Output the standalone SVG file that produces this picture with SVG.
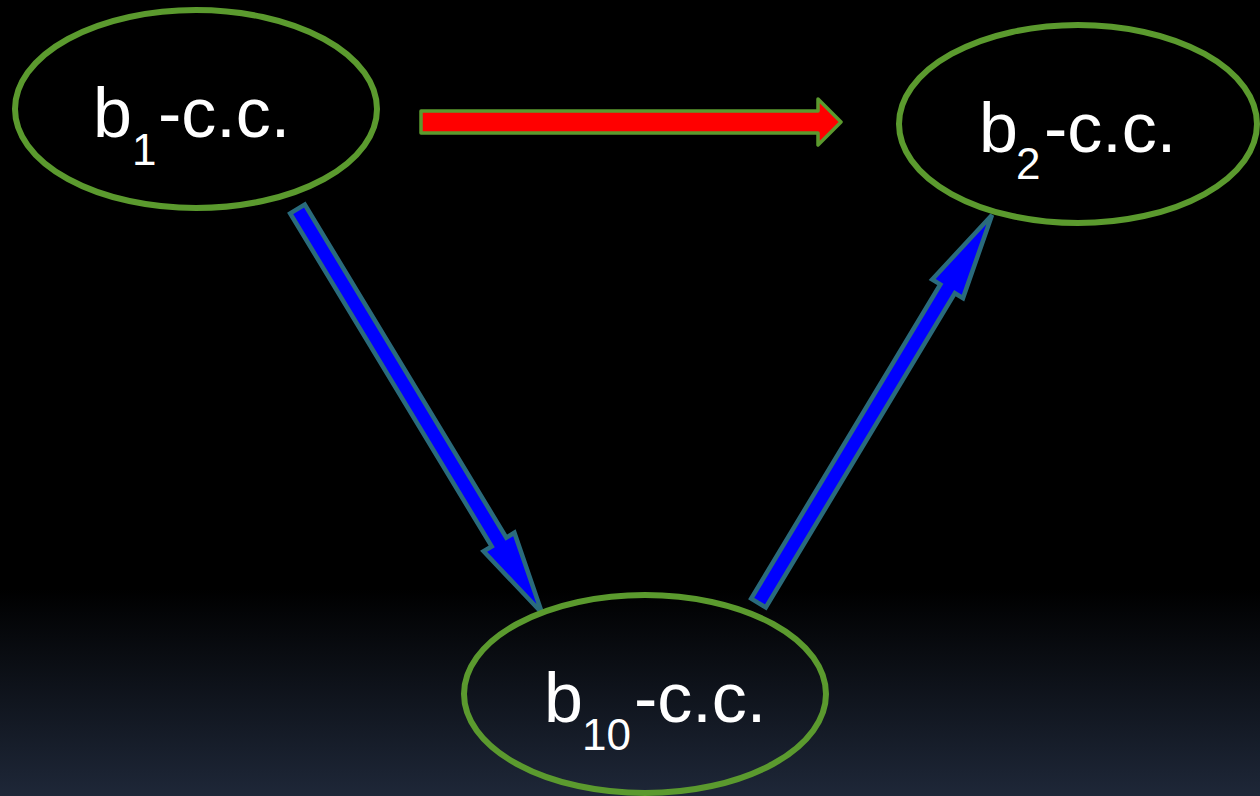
<svg xmlns="http://www.w3.org/2000/svg" width="1260" height="796" viewBox="0 0 1260 796">
<defs>
<linearGradient id="bg" x1="0" y1="0" x2="0" y2="1">
<stop offset="0" stop-color="#000000"/>
<stop offset="0.74" stop-color="#000000"/>
<stop offset="1" stop-color="#1e2738"/>
</linearGradient>
<style>
.node{fill:none;stroke:#5b9a2e;stroke-width:6}
.lbl{font-family:"Liberation Sans",Arial,sans-serif;fill:#ffffff;font-size:70px}
.sub{font-size:44px}
.blue{fill:#0000ff;stroke:#2a6b7c;stroke-width:4.5;stroke-linejoin:miter}
.red{fill:#ff0000;stroke:#5b9a2e;stroke-width:3.5;stroke-linejoin:round}
</style>
</defs>
<rect x="0" y="0" width="1260" height="796" fill="url(#bg)"/>
<g id="connectors">
<polygon class="red" points="421,111 818,111 818,99 841,122 818,145 818,133 421,133"/>
<polygon class="blue" points="290.2,213.4 304.8,204.6 506.3,537.6 514.4,532.7 542,613 483.6,551.3 491.7,546.4"/>
<polygon class="blue" points="751.2,598.6 765.8,607.4 954.9,293.2 963,298.1 992,215 932.2,279.5 940.3,284.4"/>
</g>
<g id="node-b1">
<ellipse class="node" cx="196" cy="109" rx="181" ry="99"/>
<text class="lbl"><tspan x="93" y="137">b</tspan><tspan class="sub" x="132" y="165">1</tspan><tspan x="158" y="137">-c.c.</tspan></text>
</g>
<g id="node-b2">
<ellipse class="node" cx="1078" cy="124" rx="179" ry="99"/>
<text class="lbl"><tspan x="979" y="152">b</tspan><tspan class="sub" x="1016" y="179">2</tspan><tspan x="1044" y="152">-c.c.</tspan></text>
</g>
<g id="node-b10">
<ellipse class="node" cx="645" cy="694" rx="181" ry="99"/>
<text class="lbl"><tspan x="544" y="722">b</tspan><tspan class="sub" x="582" y="750">10</tspan><tspan x="634" y="722">-c.c.</tspan></text>
</g>
</svg>
